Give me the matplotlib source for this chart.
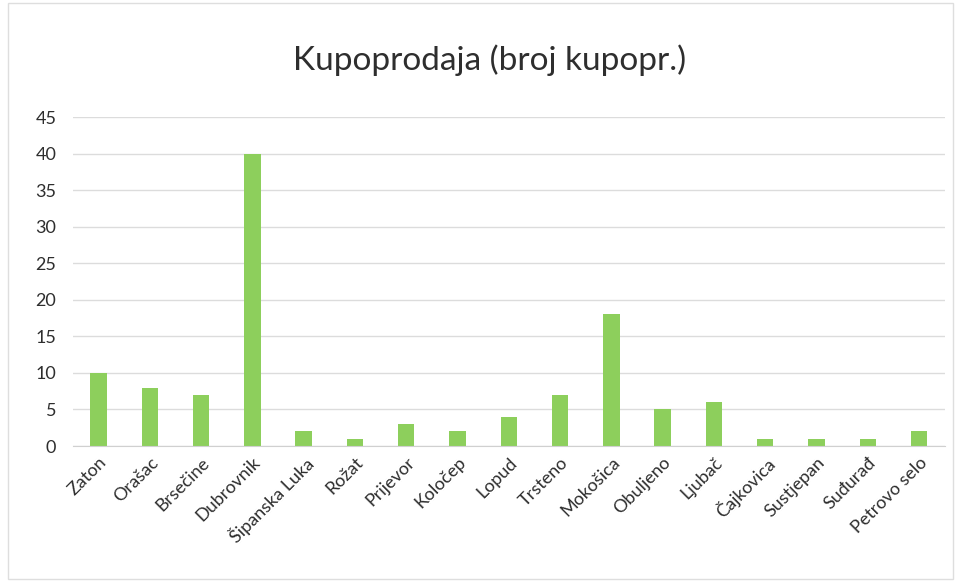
import matplotlib
matplotlib.use('Agg')
from matplotlib import pyplot as plt

places = ['Zaton', 'Orašac', 'Brsečine', 'Dubrovnik', 'Šipanska Luka', 'Rožat',
          'Prijevor', 'Koločep', 'Lopud', 'Trsteno', 'Mokošica', 'Obuljeno',
          'Ljubač', 'Čajkovica', 'Sustjepan', 'Suđurađ', 'Petrovo selo']
buyers = [10, 8, 7, 40, 2, 1, 3, 2, 4, 7, 18, 5, 6, 1, 1, 1, 2]
yticks = [0, 5, 10, 15, 20, 25, 30, 35, 40, 45]

bar_color = '#8dcf5c'
text_color = '#2e2e2e'
plt.rcParams['font.family'] = ['Lato', 'DejaVu Sans']

fig = plt.figure(figsize=(9.6, 5.85), dpi=100)
ax = fig.add_axes([0.076, 0.2376, 0.908, 0.5624])

x = list(range(len(places)))
ax.bar(x, buyers, width=0.32, color=bar_color, zorder=2)

ax.set_xlim(-0.5, len(places) - 0.5)
ax.set_ylim(0, 45)
ax.set_yticks(yticks)
ax.yaxis.grid(True, color='#dcdcdc', linewidth=1, zorder=0)
for s in ['top', 'right', 'left']:
    ax.spines[s].set_visible(False)
ax.spines['bottom'].set_color('#d0d0d0')

ax.set_xticks(x)
ax.set_xticklabels(places, rotation=45, ha='right', rotation_mode='anchor')
ax.tick_params(axis='both', length=0, colors=text_color, labelsize=13)
ax.tick_params(axis='y', pad=12)
ax.tick_params(axis='x', pad=6)

fig.text(0.51, 0.897, 'Kupoprodaja (broj kupopr.)', ha='center', va='center',
         fontsize=24, color=text_color)

# chart frame
fig.patches.append(plt.Rectangle((0.008, 0.01), 0.985, 0.985, transform=fig.transFigure,
                                 fill=False, edgecolor='#dedede', linewidth=1))

fig.savefig('out.png', dpi=100)
